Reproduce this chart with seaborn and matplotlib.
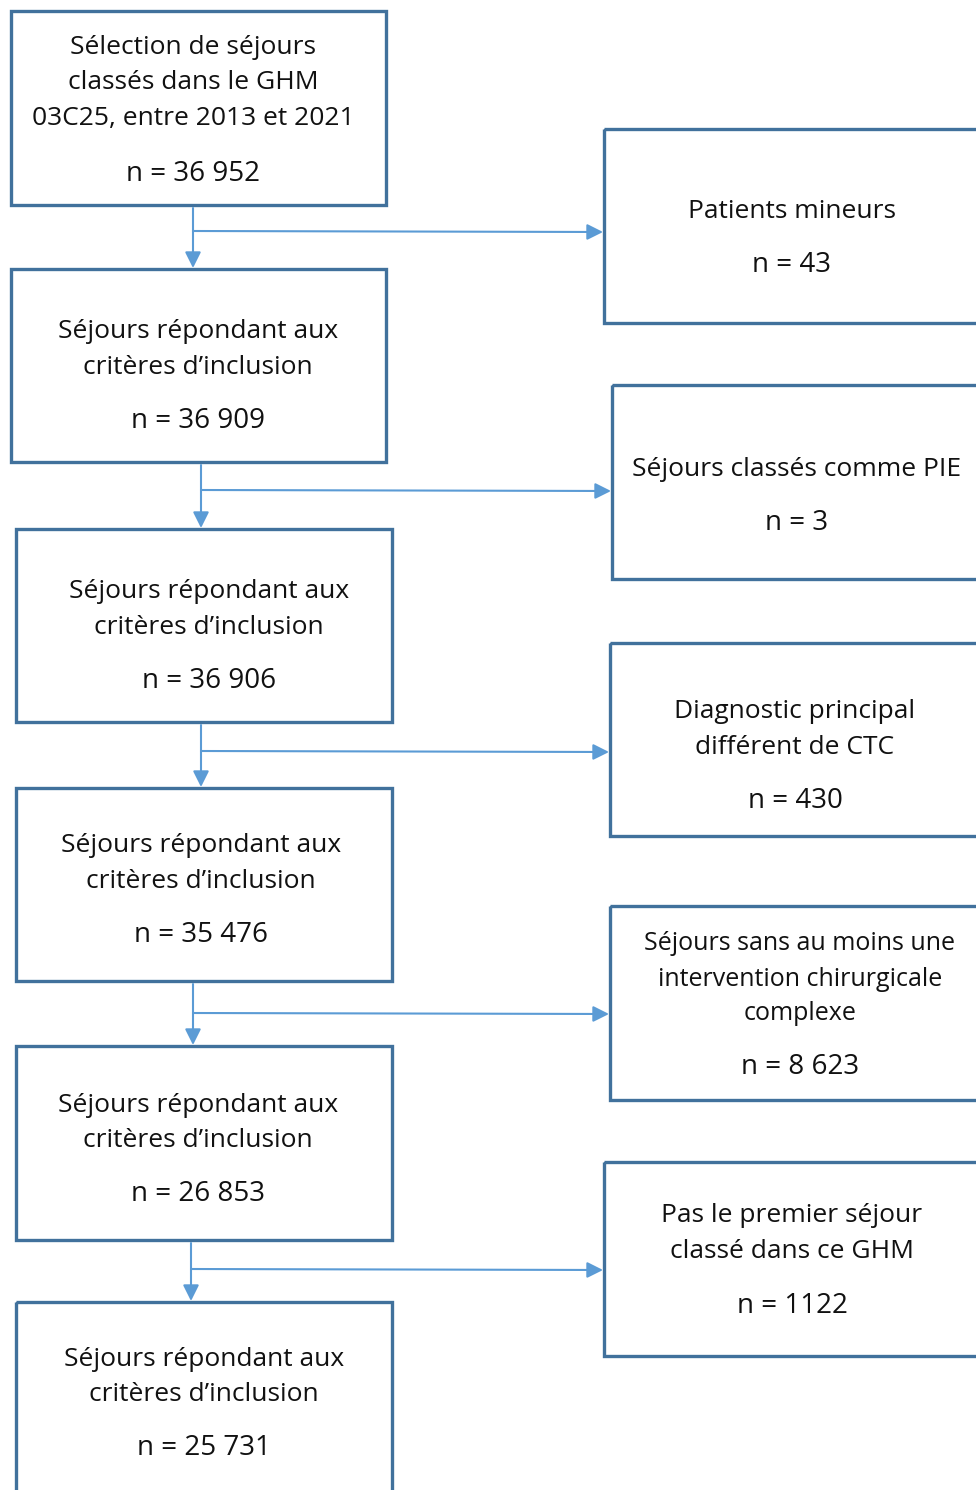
import matplotlib
matplotlib.use("Agg")
import matplotlib.pyplot as plt
import seaborn as sns
from matplotlib.patches import Rectangle

# --- data ---
kept_labels = [
    "Sélection de séjours\nclassés dans le GHM\n03C25, entre 2013 et 2021",
    "Séjours répondant aux\ncritères d’inclusion",
    "Séjours répondant aux\ncritères d’inclusion",
    "Séjours répondant aux\ncritères d’inclusion",
    "Séjours répondant aux\ncritères d’inclusion",
    "Séjours répondant aux\ncritères d’inclusion",
]
kept_counts = ["36 952", "36 909", "36 906", "35 476", "26 853", "25 731"]

excluded_labels = [
    "Patients mineurs",
    "Séjours classés comme PIE",
    "Diagnostic principal\ndifférent de CTC",
    "Séjours sans au moins une\nintervention chirurgicale\ncomplexe",
    "Pas le premier séjour\nclassé dans ce GHM",
]
excluded_counts = ["43", "3", "430", "8 623", "1122"]

# --- layout (pixels, y from top) ---
left_boxes = [(11, 11, 386, 205), (11, 269, 386, 462), (16, 529, 392, 722),
              (16, 788, 392, 981), (16, 1046, 392, 1240), (16, 1302, 392, 1500)]
left_text_y = [(45, 172), (330, 419), (590, 679), (844, 933), (1103, 1192), (1357, 1446)]
left_text_x = [193, 198, 209, 201, 198, 204]

right_boxes = [(604, 129, 990, 323), (612, 385, 990, 579), (610, 643, 990, 836),
               (610, 906, 990, 1100), (604, 1162, 990, 1356)]
right_text_y = [(209, 263), (467, 521), (710, 799), (942, 1065), (1214, 1304)]
right_text_x = [792, 797, 795, 800, 792]
right_line_h = [35.5, 35.5, 35.5, 35, 35.5]

arrow_x = [193, 201, 201, 193, 191]
arrow_h_y = [231, 490, 751, 1013, 1269]

box_color = "#41719C"
arrow_color = "#5B9BD5"
text_color = "#111111"

sns.set_theme(style="white")
plt.rcParams['font.family'] = ['Open Sans', 'DejaVu Sans']

fig = plt.figure(figsize=(9.76, 14.90), dpi=100)
ax = fig.add_axes([0, 0, 1, 1])
ax.set_xlim(0, 976)
ax.set_ylim(1490, 0)
ax.axis("off")

fs = 19
line_h = 35.5


def draw_box(x0, y0, x1, y1):
    ax.add_patch(Rectangle((x0, y0), x1 - x0, y1 - y0, fill=False,
                           edgecolor=box_color, linewidth=2.4, clip_on=True))


def draw_text(cx, y_first, y_count, label, count, lh, size):
    for i, line in enumerate(label.split("\n")):
        ax.text(cx, y_first + 2 + i * lh, line, ha="center", va="center",
                fontsize=size, color=text_color)
    ax.text(cx, y_count + 2, "n = " + count, ha="center", va="center",
            fontsize=fs + 1, color=text_color)


for (box, (ty, cy), cx, lab, cnt) in zip(left_boxes, left_text_y, left_text_x,
                                         kept_labels, kept_counts):
    draw_box(*box)
    draw_text(cx, ty, cy, lab, cnt, line_h, fs)

for (box, (ty, cy), cx, lab, cnt, lh) in zip(right_boxes, right_text_y, right_text_x,
                                             excluded_labels, excluded_counts, right_line_h):
    draw_box(*box)
    size = fs - 1 if lab.count("\n") == 2 else fs
    draw_text(cx, ty, cy, lab, cnt, lh, size)

# arrows
for i in range(5):
    x = arrow_x[i]
    y_top = left_boxes[i][3] + 3
    y_bot = left_boxes[i + 1][1] - 1
    ax.annotate("", xy=(x, y_bot), xytext=(x, y_top),
                arrowprops=dict(arrowstyle="-|>,head_length=0.8,head_width=0.4",
                                color=arrow_color, lw=1.5, shrinkA=0, shrinkB=0))
    ax.annotate("", xy=(right_boxes[i][0] - 1, arrow_h_y[i] + 1), xytext=(x, arrow_h_y[i]),
                arrowprops=dict(arrowstyle="-|>,head_length=0.8,head_width=0.4",
                                color=arrow_color, lw=1.5, shrinkA=0, shrinkB=0))

fig.savefig("out.png", dpi=100, facecolor="white")
